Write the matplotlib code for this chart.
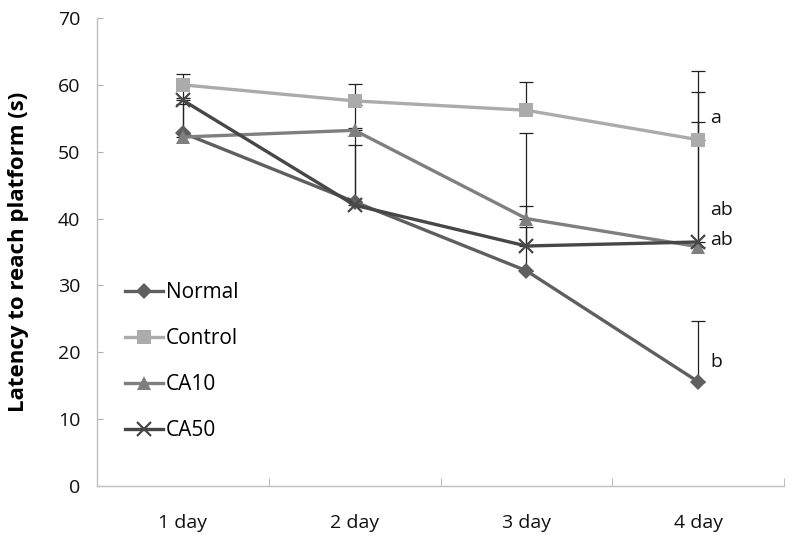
import matplotlib
matplotlib.use("Agg")
import matplotlib.pyplot as plt
import numpy as np

plt.rcParams['font.family'] = ['Open Sans', 'DejaVu Sans']

days = ["1 day", "2 day", "3 day", "4 day"]
normal = [52.8, 42.5, 32.2, 15.6]
control = [60.0, 57.6, 56.2, 51.8]
ca10 = [52.2, 53.2, 40.0, 35.8]
ca50 = [57.7, 42.0, 35.9, 36.5]

normal_err = [7.2, 8.5, 20.6, 9.1]
control_err = [1.6, 2.6, 4.3, 10.3]
ca10_err = [5.0, 0.4, 1.9, 23.2]
ca50_err = [0.3, 15.0, 2.8, 17.9]

letters = ["a", "ab", "ab", "b"]
letter_y = [55.0, 41.3, 36.8, 18.6]

fig = plt.figure(figsize=(7.9, 5.39), dpi=100)
ax = fig.add_axes([0.1228, 0.0983, 0.8696, 0.8683])

x = np.arange(len(days))

series = [
    ("Normal", normal, normal_err, "#5f5f5f", "D", 8, 2.4),
    ("Control", control, control_err, "#ababab", "s", 10.5, 2.4),
    ("CA10", ca10, ca10_err, "#7f7f7f", "^", 10.5, 2.4),
    ("CA50", ca50, ca50_err, "#474747", "x", 10, 2.4),
]

for name, vals, err, col, mk, ms, lw in series:
    ax.errorbar(x, vals, yerr=[np.zeros(len(err)), err], fmt='none',
                ecolor='#222222', elinewidth=0.9, capsize=5, capthick=0.9, zorder=2)

for name, vals, err, col, mk, ms, lw in series:
    kw = dict(markeredgewidth=1.6) if mk == 'x' else dict(markeredgewidth=0)
    ax.plot(x, vals, color=col, marker=mk, markersize=ms, linewidth=lw,
            label=name, zorder=3, markerfacecolor=col, markeredgecolor=col, **kw)

for t, yv in zip(letters, letter_y):
    ax.annotate(t, xy=(3, yv), xytext=(9, 0), textcoords='offset points',
                fontsize=14, va='center', ha='left', color='#111111')

ax.set_xlim(-0.5, 3.5)
ax.set_ylim(0, 70)
ax.set_yticks(np.arange(0, 71, 10))
ax.set_xticks(x)
ax.set_xticklabels(days)
ax.set_xticks([-0.5, 0.5, 1.5, 2.5, 3.5], minor=True)
ax.tick_params(axis='x', which='major', length=0, pad=20, labelsize=14, labelcolor='#111111')
ax.tick_params(axis='x', which='minor', direction='in', length=6, color='#b0b0b0')
ax.tick_params(axis='y', direction='in', length=4, color='#b0b0b0', labelsize=14,
               pad=12, labelcolor='#111111')

for s in ['top', 'right']:
    ax.spines[s].set_visible(False)
for s in ['left', 'bottom']:
    ax.spines[s].set_color('#c0c0c0')
    ax.spines[s].set_linewidth(1.0)

ax.set_ylabel("Latency to reach platform (s)", fontsize=16, fontweight='bold')
ax.yaxis.set_label_coords(-0.099, 0.5)

leg = ax.legend(loc='upper left', bbox_to_anchor=(0.029, 0.4536), frameon=False,
                fontsize=15, labelspacing=1.2, handlelength=1.8, handletextpad=0.15,
                borderaxespad=0)

fig.savefig("out.png", dpi=100)
